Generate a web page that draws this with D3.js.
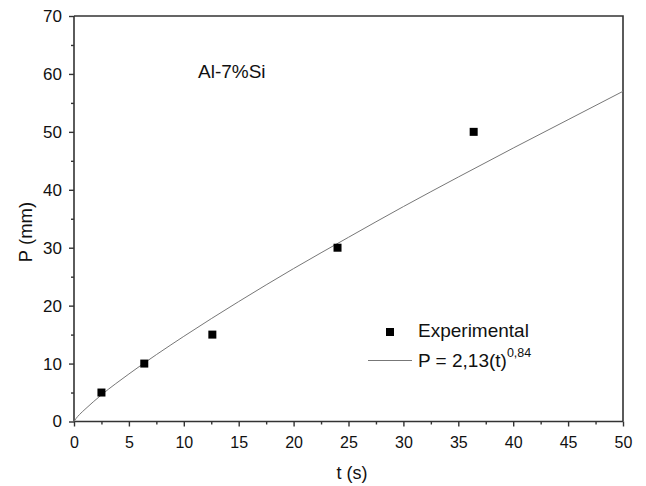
<!DOCTYPE html>
<html>
<head>
<meta charset="utf-8">
<script src="https://cdn.jsdelivr.net/npm/d3@7"></script>
<style>
  body { margin: 0; background: #fff; }
  text { font-family: "Liberation Sans", Arial, sans-serif; fill: #111; }
</style>
</head>
<body>
<svg id="chart" width="646" height="486"></svg>
<script>
// experimental points (t in s, P in mm)
var expT = [2.5, 6.4, 12.6, 24.0, 36.4];
var expP = [5, 10, 15, 30, 50];

// fitted curve
var fitT = [0, 0.2, 0.5, 1, 2.5, 5, 10, 15, 20, 25, 30, 35, 40, 45, 50];
var fitP = [0, 0.55, 1.2, 2.1, 4.6, 8.2, 14.7, 20.7, 26.4, 31.8, 37.1, 42.2, 47.2, 52.1, 57.0];

var xTicks = [0, 5, 10, 15, 20, 25, 30, 35, 40, 45, 50];
var yTicks = [0, 10, 20, 30, 40, 50, 60, 70];

var svg = d3.select("#chart");
var plotLeft = 74, plotRight = 623, plotTop = 16, plotBottom = 421.5;

var x = d3.scaleLinear().domain([0, 50]).range([plotLeft, plotRight]);
var y = d3.scaleLinear().domain([0, 70]).range([plotBottom, plotTop]);

// top and right frame
svg.append("path")
    .attr("d", "M" + plotLeft + "," + plotTop + "H" + plotRight + "V" + plotBottom)
    .attr("fill", "none")
    .attr("stroke", "#333")
    .attr("stroke-width", 1.6);

// minor ticks
var xMinor = d3.range(2.5, 50, 5);
var yMinor = d3.range(5, 70, 10);

var xAxis = svg.append("g")
    .attr("transform", "translate(0," + plotBottom + ")")
    .call(d3.axisBottom(x).tickValues(xTicks).tickSize(5).tickPadding(10));
svg.append("g")
    .attr("class", "minor")
    .attr("transform", "translate(0," + plotBottom + ")")
    .call(d3.axisBottom(x).tickValues(xMinor).tickSize(3).tickFormat(""));

var yAxis = svg.append("g")
    .attr("transform", "translate(" + plotLeft + ",0)")
    .call(d3.axisLeft(y).tickValues(yTicks).tickSize(5).tickPadding(7));
svg.append("g")
    .attr("class", "minor")
    .attr("transform", "translate(" + plotLeft + ",0)")
    .call(d3.axisLeft(y).tickValues(yMinor).tickSize(3).tickFormat(""));

svg.selectAll(".minor .domain").remove();
svg.selectAll(".domain").attr("stroke", "#333").attr("stroke-width", 1.6);
svg.selectAll(".tick line").attr("stroke", "#333").attr("stroke-width", 1.4);
xAxis.selectAll(".tick text").style("font-size", "16px").attr("fill", "#111");
yAxis.selectAll(".tick text").style("font-size", "17px").attr("fill", "#111");
xAxis.select(".domain").attr("d", "M" + plotLeft + ",0H" + plotRight);
yAxis.select(".domain").attr("d", "M0," + plotBottom + "V" + plotTop);

// fitted curve
var line = d3.line()
    .x(function(d, i) { return x(fitT[i]); })
    .y(function(d, i) { return y(fitP[i]); })
    .curve(d3.curveMonotoneX);

svg.append("path")
    .datum(fitT)
    .attr("d", line)
    .attr("fill", "none")
    .attr("stroke", "#777")
    .attr("stroke-width", 1);

// experimental squares
svg.selectAll(".pt")
    .data(expT)
    .enter().append("rect")
    .attr("class", "pt")
    .attr("x", function(d) { return x(d) - 4; })
    .attr("y", function(d, i) { return y(expP[i]) - 4; })
    .attr("width", 8)
    .attr("height", 8)
    .attr("fill", "#000");

// alloy label
svg.append("text")
    .attr("x", 198)
    .attr("y", 78)
    .style("font-size", "19px")
    .text("Al-7%Si");

// legend
svg.append("rect")
    .attr("x", 386).attr("y", 328).attr("width", 8).attr("height", 8)
    .attr("fill", "#000");
svg.append("text")
    .attr("x", 418).attr("y", 337)
    .style("font-size", "19px")
    .text("Experimental");
svg.append("line")
    .attr("x1", 368).attr("x2", 412).attr("y1", 360.5).attr("y2", 360.5)
    .attr("stroke", "#777").attr("stroke-width", 1);
var fitLabel = svg.append("text")
    .attr("x", 418).attr("y", 367)
    .style("font-size", "19px");
fitLabel.append("tspan").text("P = 2,13(t)");
fitLabel.append("tspan").attr("dy", -10).style("font-size", "12.5px").text("0,84");

// axis titles
svg.append("text")
    .attr("x", 352).attr("y", 479)
    .attr("text-anchor", "middle")
    .style("font-size", "18px")
    .text("t (s)");
svg.append("text")
    .attr("transform", "translate(32,232) rotate(-90)")
    .attr("text-anchor", "middle")
    .style("font-size", "18.5px")
    .text("P (mm)");
</script>
</body>
</html>
